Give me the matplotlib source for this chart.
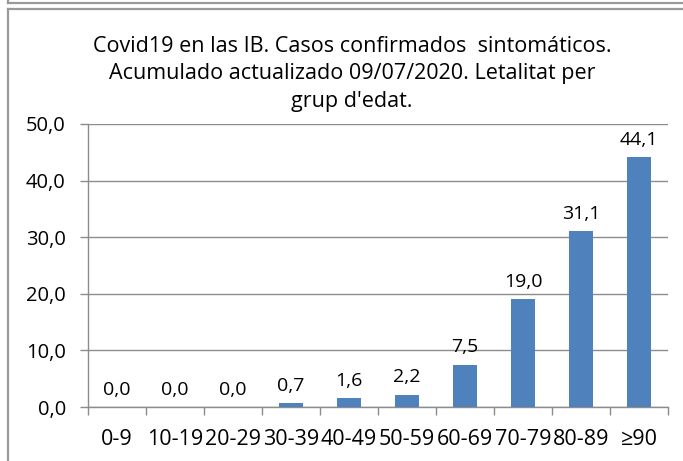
import matplotlib
matplotlib.use("Agg")
import matplotlib.pyplot as plt
from matplotlib.lines import Line2D

categories = ["0-9", "10-19", "20-29", "30-39", "40-49", "50-59", "60-69", "70-79", "80-89", "≥90"]
values = [0.0, 0.0, 0.0, 0.7, 1.6, 2.2, 7.5, 19.0, 31.1, 44.1]
yticks = [0, 10, 20, 30, 40, 50]
title = "Covid19 en las IB. Casos confirmados  sintomáticos.\nAcumulado actualizado 09/07/2020. Letalitat per\ngrup d'edat."

plt.rcParams['font.family'] = ['Open Sans', 'DejaVu Sans']

W, H = 683, 461
fig = plt.figure(figsize=(W/100, H/100), dpi=100)
fig.patch.set_facecolor("white")

# frames
fc = "#9a9a9a"
def fx(x): return x / W
def fy(y): return 1 - y / H
fig.add_artist(Line2D([fx(8), fx(8)], [fy(0), fy(3)], color=fc, lw=1.6))
fig.add_artist(Line2D([fx(8), fx(W)], [fy(3), fy(3)], color=fc, lw=1.6))
fig.add_artist(Line2D([fx(8), fx(W)], [fy(9), fy(9)], color=fc, lw=1.6))
fig.add_artist(Line2D([fx(8), fx(8)], [fy(9), fy(H)], color=fc, lw=1.6))

left, right, top, bottom = 88, 668, 124, 407
ax = fig.add_axes([left/W, 1 - bottom/H, (right-left)/W, (bottom-top)/H])

x = list(range(len(categories)))
bars = ax.bar(x, values, width=0.43, color="#4F81BD", zorder=3)
ax.set_xlim(-0.5, len(categories) - 0.5)
ax.set_ylim(0, 50)
ax.set_yticks(yticks)
ax.set_yticklabels([f"{v:.1f}".replace(".", ",") for v in yticks], fontsize=14.5)
ax.yaxis.grid(True, color="#8c8c8c", lw=1.0, zorder=0)
ax.set_axisbelow(True)

ax.set_xticks(x)
ax.set_xticklabels(categories, fontsize=15.5)
ax.tick_params(axis="x", which="major", length=0, pad=16)
ax.set_xticks([i - 0.5 for i in range(len(categories) + 1)], minor=True)
ax.tick_params(axis="x", which="minor", length=6, color="#8c8c8c", width=1)
ax.tick_params(axis="y", length=6, color="#8c8c8c", width=1, pad=10, direction="out")

for s in ["top", "right"]:
    ax.spines[s].set_visible(False)
for s in ["left", "bottom"]:
    ax.spines[s].set_color("#8c8c8c")
    ax.spines[s].set_linewidth(1)

for xi, v in zip(x, values):
    ax.annotate(f"{v:.1f}".replace(".", ","), (xi, v), xytext=(0, 6),
                textcoords="offset points", ha="center", va="bottom", fontsize=14)

fig.text(352/W, fy(74), title, ha="center", va="center", fontsize=15.5, linespacing=1.42)

fig.savefig("out.png", dpi=100, facecolor="white")
